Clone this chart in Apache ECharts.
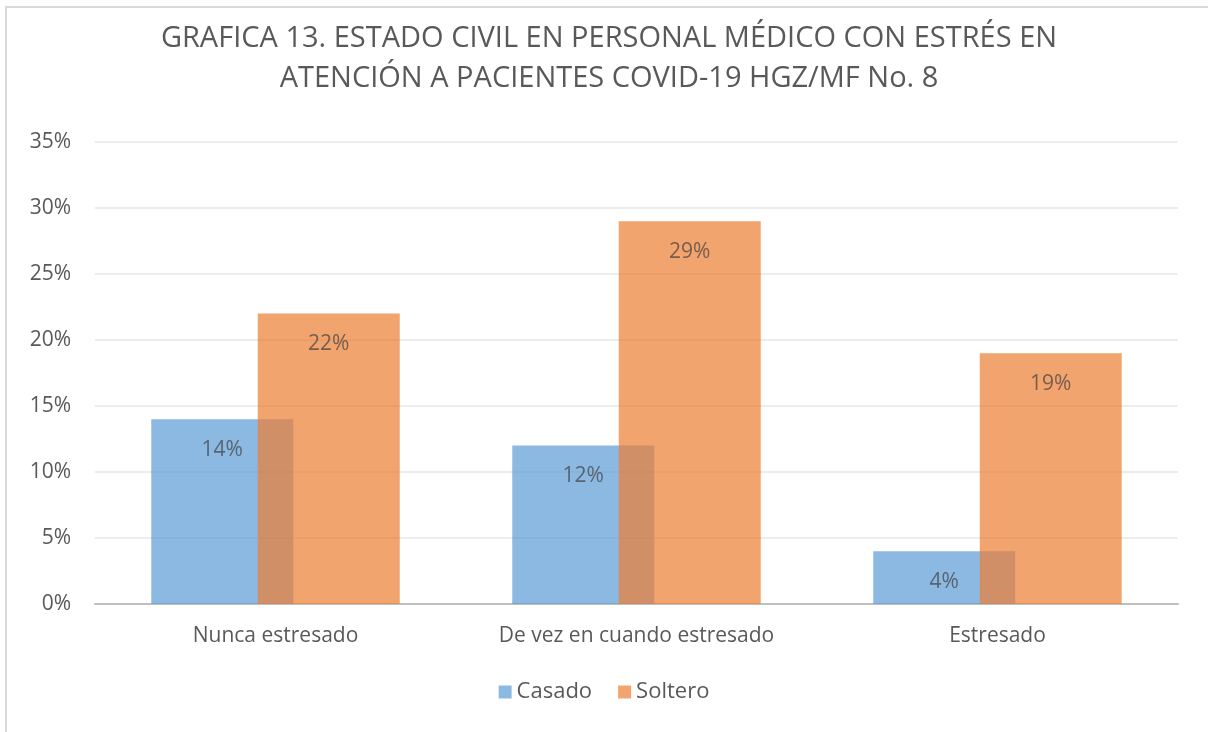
<!DOCTYPE html>
<html>
<head>
<meta charset="utf-8">
<script src="https://cdn.jsdelivr.net/npm/echarts@6/dist/echarts.min.js"></script>
<style>
	html,body{margin:0;padding:0;background:#fff;}
	#box{position:absolute;left:5px;top:6px;width:1203px;height:726px;border-left:2px solid #D9D9D9;border-top:2px solid #D9D9D9;box-sizing:border-box;}
	#chart{position:absolute;left:0;top:0;width:1208px;height:732px;}
</style>
</head>
<body>
<div id="box"></div>
<div id="chart"></div>
<script>
	var categories = ['Nunca estresado', 'De vez en cuando estresado', 'Estresado'];
	var casado = [14, 12, 4];
	var soltero = [22, 29, 19];
	var yTicks = [0, 5, 10, 15, 20, 25, 30, 35];

	var font = "'Open Sans', 'Noto Sans', sans-serif";

	var chart = echarts.init(document.getElementById('chart'));

	var labelOpt = {
		show: true,
		position: 'insideTop',
		distance: 20,
		color: '#404040',
		fontSize: 21,
		fontFamily: font,
		formatter: function(p){ return p.value + '%'; }
	};

	chart.setOption({
		animation: false,
		title: {
			text: 'GRAFICA 13. ESTADO CIVIL EN PERSONAL MÉDICO CON ESTRÉS EN\nATENCIÓN A PACIENTES COVID-19 HGZ/MF No. 8',
			left: 604,
			textAlign: 'center',
			top: 14,
			textStyle: {
				color: '#595959',
				fontSize: 29,
				fontWeight: 'normal',
				fontFamily: font,
				lineHeight: 40
			}
		},
		legend: {
			bottom: 24,
			left: 'center',
			itemWidth: 13,
			itemHeight: 13,
			itemGap: 26,
			icon: 'rect',
			textStyle: { color: '#595959', fontSize: 22, fontFamily: font },
			data: ['Casado', 'Soltero']
		},
		grid: { left: 95, right: 30, top: 142, bottom: 128 },
		xAxis: {
			type: 'category',
			data: categories,
			axisLine: { lineStyle: { color: '#BFBFBF', width: 2 } },
			axisTick: { show: false },
			axisLabel: { color: '#595959', fontSize: 21, fontFamily: font, margin: 22 }
		},
		yAxis: {
			type: 'value',
			min: yTicks[0],
			max: yTicks[yTicks.length - 1],
			interval: 5,
			axisLine: { show: false },
			axisTick: { show: false },
			splitLine: { lineStyle: { color: '#E6E6E6', width: 1.5 } },
			axisLabel: { color: '#595959', fontSize: 21, fontFamily: font, margin: 24, formatter: '{value}%' }
		},
		series: [
			{
				name: 'Casado',
				type: 'bar',
				data: casado,
				barWidth: 142,
				barGap: '-25%',
				itemStyle: { color: '#5B9BD5', opacity: 0.7 },
				label: labelOpt
			},
			{
				name: 'Soltero',
				type: 'bar',
				data: soltero,
				barWidth: 142,
				barGap: '-25%',
				itemStyle: { color: '#ED7D31', opacity: 0.7 },
				label: labelOpt
			}
		]
	});
</script>
</body>
</html>
